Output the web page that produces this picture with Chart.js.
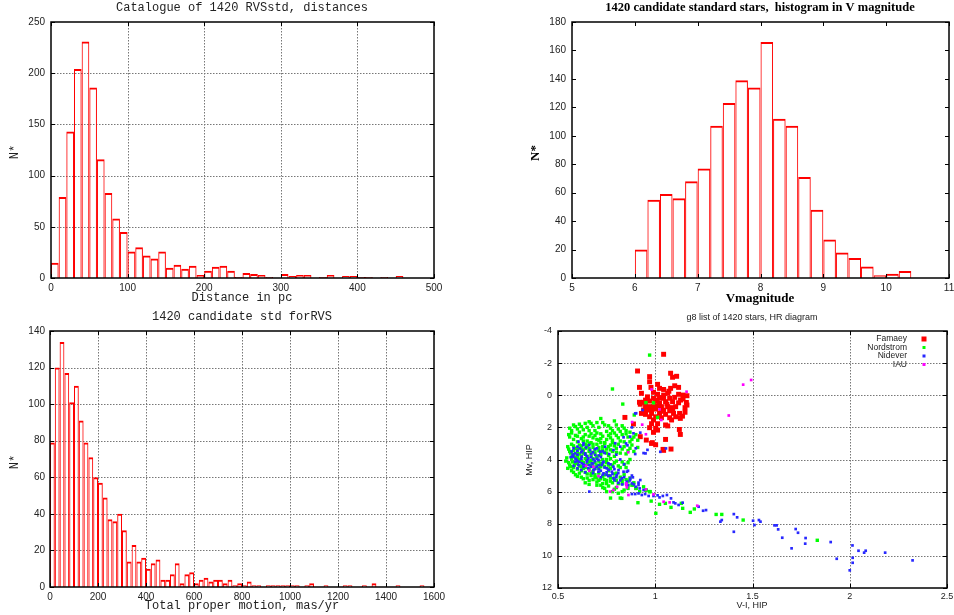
<!DOCTYPE html>
<html>
<head>
<meta charset="utf-8">
<script src="https://cdn.jsdelivr.net/npm/chart.js@4.4.1/dist/chart.umd.min.js"></script>
<style>
html,body{margin:0;padding:0;background:#fff;overflow:hidden;width:954px;height:615px;}
.p{position:absolute;}
canvas{display:block;}
</style>
</head>
<body>
<div class="p" style="left:0;top:0"><canvas id="c1" width="477" height="307"></canvas></div>
<div class="p" style="left:477px;top:0"><canvas id="c2" width="490" height="307"></canvas></div>
<div class="p" style="left:0;top:307px"><canvas id="c3" width="477" height="308"></canvas></div>
<div class="p" style="left:477px;top:307px"><canvas id="c4" width="490" height="308"></canvas></div>
<script>
// --- panel 1: distances, 10 pc bins starting at 0
var distStart = 0, distStep = 10;
var distCounts = [15,79,143,204,231,186,116,83,58,45, 26,30,22,19,26,10,13,9,12,3,
                  7,11,12,7,1,5,4,3,1,0, 4,2,3,3,0,1,3,0,2,2, 1,1,0,1,0,2];
var distTicks = [0,100,200,300,400,500];
var countTicks1 = [0,50,100,150,200,250];

// --- panel 2: V magnitude, 0.2 mag bins starting at 6.0
var vmagStart = 6.0, vmagStep = 0.2;
var vmagCounts = [20,55,59,56,68,77,107,123,139,134,166,112,107,71,48,27,18,14,8,2,3,5];
var vmagTicks = [5,6,7,8,9,10,11];
var countTicks2 = [0,20,40,60,80,100,120,140,160,180];

// --- panel 3: total proper motion, 20 mas/yr bins starting at 0
var pmStart = 0, pmStep = 20;
var pmCounts = [79,120,134,117,101,110,91,79,71,60, 57,49,37,36,40,31,14,23,14,16,
                10,13,15,4,4,7,13,2,7,8, 2,4,5,3,4,4,2,4,1,2,
                1,3,1,1,0,1,1,1,1,1, 1,1,0,1,2,0,0,1,0,0,
                0,1,1,0,0,1,0,2,0,0, 0,0,1,0,0,0,0,1,0,0];
var pmTicks = [0,200,400,600,800,1000,1200,1400,1600];
var countTicks3 = [0,20,40,60,80,100,120,140];

// --- panel 4: HR diagram, [V-I, Mv]
var famaey = [[1.043,-2.55],[0.909,-1.51],[1.079,-1.37],[1.089,-1.12],[1.110,-1.18],[0.971,-1.16],[0.971,-0.84],[1.012,-0.68],
  [0.919,-0.49],[0.978,-0.49],[1.022,-0.43],[1.043,-0.36],[1.079,-0.43],[1.100,-0.59],[1.120,-0.49],[0.929,-0.12],[0.991,-0.18],
  [1.012,-0.06],[1.043,-0.01],[1.064,-0.12],[1.120,-0.06],[1.143,-0.01],[1.163,0.03],[0.991,0.19],[1.022,0.15],[1.043,0.19],
  [1.074,0.19],[1.100,0.13],[1.143,0.23],[0.919,0.44],[0.940,0.44],[0.971,0.36],[1.002,0.36],[1.022,0.47],[1.053,0.40],[1.089,0.40],
  [1.120,0.47],[1.163,0.61],[0.950,0.65],[0.971,0.71],[0.991,0.71],[1.012,0.65],[1.032,0.71],[1.064,0.71],[1.084,0.77],[1.105,0.71],
  [1.153,0.77],[0.940,0.92],[0.960,0.92],[0.981,0.92],[1.002,0.86],[1.043,0.92],[1.074,0.97],[0.929,1.13],[0.950,1.19],[0.981,1.13],
  [1.022,1.13],[1.053,1.19],[1.094,1.13],[1.125,1.13],[1.153,1.06],[0.971,1.34],[1.002,1.34],[1.032,1.40],[1.074,1.40],[1.105,1.34],
  [1.129,1.44],[0.844,1.38],[0.991,1.54],[1.084,1.54],[0.981,1.77],[1.012,1.77],[1.053,1.85],[1.064,1.91],[0.971,2.02],[1.002,2.06],
  [1.012,2.17],[1.124,2.13],[0.991,2.31],[1.129,2.44],[0.954,2.79],[1.053,2.75],[0.981,3.00],[1.002,3.08],[1.081,3.35],[1.043,3.43],
  [0.923,0.56],[0.923,2.58],[0.888,1.79],[0.985,2.95],[1.040,3.37],[1.010,0.30],[1.060,0.55],[1.130,0.30],[0.960,0.10],[1.090,0.85],
  [1.140,1.30],[1.030,1.00],[0.950,0.30],[1.160,0.45],[1.070,-0.25]];

var nordstrom = [[0.971,-2.5],[0.780,-0.39],[0.833,0.55],[0.991,0.47],[0.952,0.46],[0.892,1.23],[1.012,1.38],
  [0.56,2.05],[0.58,1.85],[0.60,2.10],[0.62,1.95],[0.64,1.75],[0.66,1.65],[0.68,1.90],[0.70,1.70],[0.72,1.45],[0.74,1.85],
  [0.77,2.05],[0.79,1.60],[0.81,2.10],[0.83,1.90],[0.85,2.20],[0.63,2.15],[0.69,2.20],[0.75,2.25],
  [0.57,2.20],[0.59,1.95],[0.61,1.80],[0.65,2.00],[0.67,1.75],[0.71,2.00],[0.73,1.70],[0.76,1.90],[0.78,2.20],[0.80,1.85],
  [0.82,2.25],[0.84,2.05],[0.87,2.30],
  [0.56,2.60],[0.57,2.35],[0.59,2.50],[0.61,2.30],[0.62,2.70],[0.64,2.45],[0.65,2.85],[0.67,2.40],[0.68,2.65],[0.70,2.35],
  [0.71,2.80],[0.73,2.55],[0.74,2.95],[0.76,2.50],[0.78,2.80],[0.79,2.35],[0.81,2.65],[0.83,2.45],[0.84,2.90],[0.86,2.60],
  [0.88,2.75],[0.90,2.45],[0.60,2.90],[0.66,2.20],[0.72,2.95],[0.77,2.65],
  [0.555,2.45],[0.58,2.75],[0.60,2.55],[0.63,2.60],[0.63,2.85],[0.66,2.55],[0.67,2.95],[0.69,2.50],[0.70,2.75],[0.72,2.40],
  [0.72,2.70],[0.75,2.75],[0.77,2.40],[0.78,2.95],[0.80,2.50],[0.82,2.85],[0.85,2.40],[0.87,2.90],[0.89,2.60],[0.91,2.80],
  [0.55,3.20],[0.56,3.50],[0.57,3.05],[0.58,3.70],[0.59,3.30],[0.60,3.55],[0.61,3.10],[0.62,3.80],[0.63,3.40],[0.64,3.65],
  [0.65,3.15],[0.66,3.50],[0.67,3.75],[0.68,3.25],[0.69,3.60],[0.70,3.05],[0.71,3.45],[0.72,3.70],[0.73,3.20],[0.74,3.55],
  [0.75,3.35],[0.76,3.75],[0.77,3.10],[0.78,3.50],[0.80,3.30],[0.82,3.60],[0.84,3.20],[0.86,3.45],[0.88,3.10],[0.58,3.15],
  [0.62,3.35],[0.66,3.00],[0.70,3.80],[0.74,3.00],[0.79,3.80],[0.57,3.85],[0.60,3.75],[0.64,3.05],
  [0.555,3.35],[0.565,3.60],[0.58,3.45],[0.59,3.85],[0.60,3.35],[0.61,3.65],[0.62,3.15],[0.63,3.60],[0.64,3.30],[0.65,3.80],
  [0.66,3.30],[0.67,3.55],[0.68,3.05],[0.69,3.40],[0.71,3.25],[0.72,3.55],[0.73,3.40],[0.75,3.60],[0.76,3.20],[0.77,3.40],
  [0.79,3.15],[0.80,3.55],[0.81,3.05],[0.83,3.35],[0.85,3.65],[0.87,3.30],[0.89,3.50],[0.91,3.25],
  [0.54,4.10],[0.56,4.35],[0.57,3.95],[0.58,4.50],[0.59,4.20],[0.60,3.90],[0.61,4.40],[0.62,4.10],[0.63,4.55],[0.64,3.95],
  [0.65,4.30],[0.66,4.60],[0.67,4.05],[0.68,4.45],[0.69,4.20],[0.70,3.90],[0.71,4.55],[0.72,4.25],[0.73,4.00],[0.74,4.45],
  [0.75,4.20],[0.76,4.60],[0.78,4.35],[0.80,4.10],[0.82,4.50],[0.84,4.30],[0.87,4.00],[0.60,4.60],[0.65,4.00],[0.70,4.35],
  [0.77,3.95],[0.55,4.55],
  [0.545,3.90],[0.555,4.20],[0.565,4.45],[0.575,4.15],[0.585,4.35],[0.60,4.25],[0.61,4.00],[0.62,4.45],[0.63,4.20],[0.64,4.50],
  [0.66,4.15],[0.67,4.35],[0.68,3.95],[0.69,4.55],[0.71,4.10],[0.72,4.45],[0.73,4.30],[0.75,4.00],[0.76,4.35],[0.77,4.55],
  [0.79,4.20],[0.81,4.40],[0.83,4.15],[0.85,4.50],[0.86,4.20],
  [0.58,4.80],[0.60,5.05],[0.62,4.70],[0.63,5.20],[0.65,4.90],[0.66,5.30],[0.68,4.75],[0.69,5.10],[0.70,5.40],[0.71,4.85],
  [0.72,5.20],[0.73,5.50],[0.74,4.95],[0.75,5.30],[0.76,4.70],[0.77,5.15],[0.78,5.45],[0.79,4.90],[0.80,5.30],[0.82,5.10],
  [0.83,5.50],[0.85,5.25],[0.64,5.45],[0.67,5.00],[0.86,5.60],[0.89,5.45],
  [0.57,4.70],[0.59,4.95],[0.61,4.85],[0.62,5.10],[0.64,4.80],[0.65,5.15],[0.67,4.85],[0.68,5.25],[0.69,4.95],[0.70,5.15],
  [0.71,5.30],[0.73,5.05],[0.74,5.25],[0.75,5.50],[0.76,5.00],[0.77,5.35],[0.79,5.15],[0.80,4.85],[0.81,5.50],[0.83,5.30],
  [0.84,4.95],[0.86,5.35],[0.87,5.15],[0.66,5.55],[0.70,5.60],
  [0.72,5.60],[0.74,5.80],[0.76,5.65],[0.78,6.00],[0.80,5.75],[0.81,6.10],[0.84,5.90],[0.77,6.40],[0.82,6.40],[0.88,5.60],
  [0.90,5.80],[0.95,5.90],[0.97,6.00],[0.73,5.75],[0.75,6.00],[0.79,5.85],[0.83,6.00],[0.86,5.80],[0.92,6.00],[0.94,5.70],
  [0.888,5.59],[0.902,5.80],[0.954,5.90],[0.974,6.00],[0.911,6.69],[0.979,6.59],[0.828,6.42],
  [1.003,7.35],[1.022,6.79],[1.052,6.73],[1.081,6.98],[1.134,6.73],[1.141,7.04],[1.180,7.29],[1.201,7.08],[1.313,7.42],[1.342,7.42],
  [1.452,7.77],[1.833,9.03]];

var nidever = [[0.897,1.13],[0.935,0.92],[0.880,2.00],[0.923,2.33],[0.888,2.37],[0.837,2.62],[0.794,2.99],[0.785,3.41],[0.763,3.66],
  [0.742,3.20],[0.716,3.51],[0.691,3.72],[0.665,3.41],[0.639,3.62],[0.613,3.31],[0.588,3.62],[0.579,3.83],[0.596,4.03],[0.622,4.24],
  [0.648,4.14],[0.674,4.24],[0.699,4.45],[0.725,4.34],[0.751,4.55],[0.777,4.76],[0.802,4.97],[0.828,5.17],[0.854,5.38],[0.880,5.49],
  [0.914,5.59],[0.785,5.17],[0.759,5.03],[0.734,4.86],[0.708,4.76],[0.682,4.66],[0.656,4.55],[0.631,4.45],[0.605,4.34],[0.588,4.14],
  [0.656,3.93],[0.682,3.99],[0.708,4.03],[0.734,4.14],[0.759,4.24],[0.785,4.45],[0.811,4.66],[0.622,3.83],[0.648,3.80],[0.631,2.99],
  [0.660,3.10],[0.605,2.89],[0.661,6.00],[0.570,3.50],[0.600,3.20],[0.620,3.55],[0.640,4.35],[0.670,4.45],[0.690,4.10],[0.710,4.60],
  [0.730,4.95],[0.750,4.80],[0.770,5.00],[0.790,5.30],[0.810,5.45],[0.830,5.55],[0.860,5.60],[0.700,3.30],[0.720,3.85],[0.740,3.60],
  [0.680,3.55],[0.600,4.55],[0.580,4.40],[0.620,4.65],[0.940,3.60],[0.960,3.40],[0.900,3.30],[0.850,3.00],[0.820,3.20],[0.800,3.70],
  [0.820,4.00],[0.840,4.30],[0.860,4.70],[0.880,5.00],[0.630,3.10],
  [0.575,3.70],[0.590,3.95],[0.600,3.45],[0.610,4.15],[0.620,3.95],[0.630,4.30],[0.640,3.70],[0.650,4.05],[0.660,4.35],[0.670,3.85],
  [0.680,4.25],[0.690,4.60],[0.700,3.95],[0.710,4.35],[0.720,4.70],[0.730,4.20],[0.740,4.50],[0.750,4.95],[0.760,4.65],[0.770,4.30],
  [0.780,4.90],[0.790,4.60],[0.800,5.10],[0.810,4.85],[0.820,5.30],[0.840,5.10],[0.850,5.50],[0.870,5.30],[0.890,5.55],[0.900,5.70],
  [0.920,5.80],[0.940,5.90],[0.600,3.70],[0.625,3.45],[0.645,3.25],[0.670,3.65],[0.690,3.35],[0.710,3.75],[0.730,3.50],[0.600,4.10],
  [0.565,3.85],[0.580,3.30],[0.640,4.80],[0.680,4.85],[0.720,5.10],
  [0.902,1.12],[1.055,3.31],[1.026,3.52],[0.950,3.62],[0.897,3.66],[0.871,2.58],[0.857,3.12],
  [0.871,5.17],[0.885,5.11],[0.914,5.44],[0.923,5.28],[0.837,4.76],[0.854,4.76],[0.880,6.15],[0.897,6.15],[0.914,6.11],[0.931,6.21],
  [0.948,6.15],[0.966,6.27],[0.991,6.27],[1.012,6.23],[1.022,6.36],[1.039,6.27],[1.060,6.21],[1.081,6.42],[1.094,6.67],[1.103,6.73],
  [1.120,6.83],[1.141,6.69],[1.223,6.94],[1.261,7.15],[1.246,7.19],[1.335,7.87],[1.404,7.40],[1.421,7.60],[1.404,8.50],
  [1.503,7.81],[1.510,8.08],[1.533,7.77],[1.541,7.87],[1.613,8.10],[1.624,8.10],[1.632,8.35],[1.653,8.87],[1.722,8.33],[1.734,8.56],
  [1.773,8.89],[1.771,9.24],[1.701,9.53],[1.902,9.14],[1.933,10.18],[2.014,9.35],[2.015,10.12],[2.015,10.43],[2.045,9.68],[2.074,9.80],
  [2.082,9.68],[2.182,9.80],[2.323,10.28],[2.000,10.90],[1.342,7.77]];

var iau = [[1.161,-0.22],[0.981,-0.36],[1.022,0.88],[1.031,1.54],[0.881,1.67],[0.933,1.83],[0.952,2.43],[0.861,3.55],[1.378,1.26],
  [1.452,-0.66],[1.493,-0.95],[0.644,4.39],[0.661,4.70],[0.708,5.03],[0.682,4.45],[0.804,5.70],[0.785,5.90],[0.851,5.49],[0.854,5.74],
  [0.952,5.86],[0.768,6.00],[0.851,5.59],[0.862,6.21],[0.991,6.17],[1.043,6.63],[1.074,6.67],[1.216,6.88]];
var vmiTicks = [0.5,1,1.5,2,2.5];
var mvTicks = [-4,-2,0,2,4,6,8,10,12];

// ---------------------------------------------------------------
var RED = 'rgb(255,0,0)';

function bins(start, step, counts) {
  return counts.map(function(c, i){ return {x: start + (i + 0.5) * step, y: c}; });
}

// gnuplot-like frame, dotted grid and inward ticks
function framePlugin(withGrid) {
  return {
    id: 'frame',
    beforeDatasetsDraw: function(chart) {
      if (!withGrid) return;
      var a = chart.chartArea, ctx = chart.ctx, xs = chart.scales.x, ys = chart.scales.y;
      ctx.save();
      ctx.strokeStyle = '#777'; ctx.lineWidth = 1; ctx.setLineDash([1.5,1.5]);
      xs.ticks.forEach(function(t){
        var p = Math.round(xs.getPixelForValue(t.value)) + 0.5;
        if (p < a.left + 2 || p > a.right - 2) return;
        ctx.beginPath(); ctx.moveTo(p, a.top); ctx.lineTo(p, a.bottom); ctx.stroke();
      });
      ys.ticks.forEach(function(t){
        var p = Math.round(ys.getPixelForValue(t.value)) + 0.5;
        if (p < a.top + 2 || p > a.bottom - 2) return;
        ctx.beginPath(); ctx.moveTo(a.left, p); ctx.lineTo(a.right, p); ctx.stroke();
      });
      ctx.restore();
    },
    afterDatasetsDraw: function(chart) {
      var a = chart.chartArea, ctx = chart.ctx, xs = chart.scales.x, ys = chart.scales.y;
      ctx.save();
      ctx.strokeStyle = '#000'; ctx.lineWidth = 1;
      xs.ticks.forEach(function(t){
        var p = Math.round(xs.getPixelForValue(t.value)) + 0.5;
        ctx.beginPath(); ctx.moveTo(p, a.bottom); ctx.lineTo(p, a.bottom - 4);
        ctx.moveTo(p, a.top); ctx.lineTo(p, a.top + 4); ctx.stroke();
      });
      ys.ticks.forEach(function(t){
        var p = Math.round(ys.getPixelForValue(t.value)) + 0.5;
        ctx.beginPath(); ctx.moveTo(a.left, p); ctx.lineTo(a.left + 4, p);
        ctx.moveTo(a.right, p); ctx.lineTo(a.right - 4, p); ctx.stroke();
      });
      ctx.lineWidth = 1.5;
      ctx.strokeRect(a.left, a.top, a.right - a.left, a.bottom - a.top);
      ctx.restore();
    }
  };
}

// titles and axis labels, positions in canvas pixels
function textPlugin(items) {
  return {
    id: 'texts',
    afterDraw: function(chart) {
      var ctx = chart.ctx;
      items.forEach(function(it){
        ctx.save();
        ctx.font = it.font; ctx.fillStyle = it.color || '#222';
        ctx.textAlign = it.align || 'center'; ctx.textBaseline = 'middle';
        ctx.translate(it.x, it.y);
        if (it.rot) ctx.rotate(-Math.PI / 2);
        ctx.fillText(it.text, 0, 0);
        ctx.restore();
      });
    }
  };
}

function fixedTicks(list) {
  return function(axis){ axis.ticks = list.map(function(v){ return {value: v}; }); };
}

function axes(o) {
  return {
    x: {type: 'linear', offset: false, min: o.xTicks[0], max: o.xTicks[o.xTicks.length - 1],
        grid: {display: false, drawTicks: false}, border: {display: false},
        afterBuildTicks: fixedTicks(o.xTicks),
        afterFit: function(s){ s.height = o.xh; },
        ticks: {padding: o.xpad, maxRotation: 0, autoSkip: false, color: '#222',
                font: {family: 'Liberation Sans', size: o.fs},
                callback: function(v){ return String(v); }}},
    y: {type: 'linear', min: o.yTicks[0], max: o.yTicks[o.yTicks.length - 1], reverse: !!o.rev,
        grid: {display: false, drawTicks: false}, border: {display: false},
        afterBuildTicks: fixedTicks(o.yTicks),
        afterFit: function(s){ s.width = o.yw; },
        ticks: {padding: o.ypad, autoSkip: false, color: '#222',
                font: {family: 'Liberation Sans', size: o.fs},
                callback: function(v){ return String(v); }}}
  };
}

function histogram(id, data, o, withGrid, texts) {
  return new Chart(document.getElementById(id), {
    type: 'bar',
    data: {datasets: [{
      data: data,
      backgroundColor: 'rgba(0,0,0,0)',
      borderColor: RED,
      borderWidth: {top: 2, left: 1, right: 1, bottom: 0},
      borderSkipped: 'start',
      inflateAmount: 0,
      barPercentage: 1, categoryPercentage: 1
    }]},
    options: {
      responsive: false, animation: false, devicePixelRatio: 1,
      layout: {padding: o.pad},
      plugins: {legend: {display: false}, tooltip: {enabled: false}},
      scales: axes(o)
    },
    plugins: [framePlugin(withGrid), textPlugin(texts)]
  });
}

var mono12 = '12px "Liberation Mono"';
var serifB = 'bold 13px "Liberation Serif"';

histogram('c1', bins(distStart, distStep, distCounts),
  {xTicks: distTicks, yTicks: countTicks1, xh: 29, yw: 51, xpad: 4, ypad: 6, fs: 10,
   pad: {left: 0, top: 22, right: 43, bottom: 0}}, true,
  [{text: 'Catalogue of 1420 RVSstd, distances', x: 242, y: 8, font: mono12},
   {text: 'Distance in pc', x: 242, y: 298, font: mono12},
   {text: 'N*', x: 15, y: 152, font: mono12, rot: true}]);

histogram('c2', bins(vmagStart, vmagStep, vmagCounts),
  {xTicks: vmagTicks, yTicks: countTicks2, xh: 29, yw: 95, xpad: 4, ypad: 6, fs: 10,
   pad: {left: 0, top: 22, right: 18, bottom: 0}}, false,
  [{text: '1420 candidate standard stars,  histogram in V magnitude', x: 283, y: 8, font: 'bold 12.5px "Liberation Serif"', color: '#000'},
   {text: 'Vmagnitude', x: 283, y: 299, font: serifB, color: '#000'},
   {text: 'N*', x: 59, y: 153, font: serifB, color: '#000', rot: true}]);

histogram('c3', bins(pmStart, pmStep, pmCounts),
  {xTicks: pmTicks, yTicks: countTicks3, xh: 28, yw: 50, xpad: 4, ypad: 5, fs: 10,
   pad: {left: 0, top: 24, right: 43, bottom: 0}}, true,
  [{text: '1420 candidate std forRVS', x: 242, y: 10, font: mono12},
   {text: 'Total proper motion, mas/yr', x: 242, y: 299, font: mono12},
   {text: 'N*', x: 15, y: 155, font: mono12, rot: true}]);

// legend drawn gnuplot style: right-aligned key text, marker to its right
var legendItems = [['Famaey', RED, 5], ['Nordstrom', '#00ff00', 3], ['Nidever', '#2828ff', 3], ['IAU', '#ff00ff', 3]];
var hrLegend = {
  id: 'hrLegend',
  afterDraw: function(chart) {
    var ctx = chart.ctx;
    ctx.save();
    ctx.font = '8.5px "Liberation Sans"'; ctx.textAlign = 'right'; ctx.textBaseline = 'middle';
    legendItems.forEach(function(it, i){
      var y = 32 + i * 8.5;
      ctx.fillStyle = '#222';
      ctx.fillText(it[0], 430, y);
      ctx.fillStyle = it[1];
      ctx.fillRect(447 - it[2] / 2, y - it[2] / 2, it[2], it[2]);
    });
    ctx.restore();
  }
};

function pts(list) { return list.map(function(p){ return {x: p[0], y: p[1]}; }); }

new Chart(document.getElementById('c4'), {
  type: 'scatter',
  data: {datasets: [
    {label: 'Famaey', data: pts(famaey), order: 3, pointStyle: 'rect', pointRadius: 3.5,
     backgroundColor: RED, borderWidth: 0},
    {label: 'Nordstrom', data: pts(nordstrom), order: 2, pointStyle: 'rect', pointRadius: 2.4,
     backgroundColor: '#00ff00', borderWidth: 0},
    {label: 'Nidever', data: pts(nidever), order: 1, pointStyle: 'rect', pointRadius: 1.9,
     backgroundColor: '#2828ff', borderWidth: 0},
    {label: 'IAU', data: pts(iau), order: 0, pointStyle: 'rect', pointRadius: 1.9,
     backgroundColor: '#ff00ff', borderWidth: 0}
  ]},
  options: {
    responsive: false, animation: false, devicePixelRatio: 1,
    layout: {padding: {left: 0, top: 24, right: 20, bottom: 0}},
    plugins: {legend: {display: false}, tooltip: {enabled: false}},
    scales: axes({xTicks: vmiTicks, yTicks: mvTicks, rev: true, xh: 27, yw: 81, xpad: 3, ypad: 6, fs: 9})
  },
  plugins: [framePlugin(true), hrLegend,
    textPlugin([
      {text: 'g8 list of 1420 stars, HR diagram', x: 275, y: 11, font: '9px "Liberation Sans"'},
      {text: 'V-I, HIP', x: 275, y: 299, font: '9px "Liberation Sans"'},
      {text: 'Mv, HIP', x: 53, y: 153, font: '9px "Liberation Sans"', rot: true}])]
});
</script>
</body>
</html>
